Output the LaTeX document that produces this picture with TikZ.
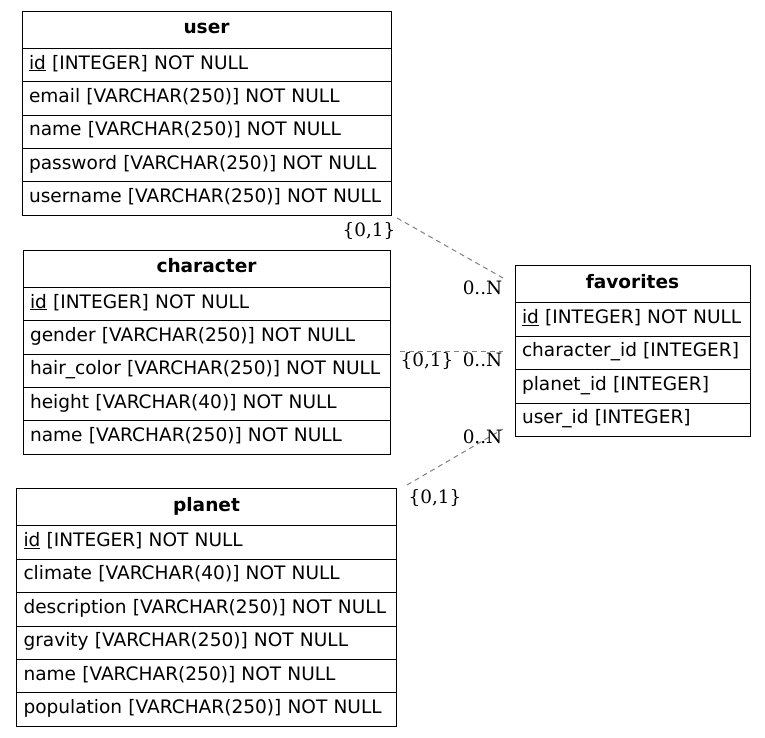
\documentclass[tikz,border=0pt]{standalone}
\usepackage{fontspec}
\setmainfont{DejaVu Sans}
\newfontfamily\lblfont{DejaVu Serif}
\begin{document}
\begin{tikzpicture}[x=1pt,y=-1pt,
  every node/.style={font=\fontsize{18.55}{22}\selectfont},
  tblhead/.style={draw, line width=1pt, outer sep=0pt, anchor=north west, minimum height=37.3pt, inner xsep=7pt, inner ysep=0pt, align=center, text height=13.5pt, text depth=5.5pt, font=\fontsize{18.55}{22}\selectfont\bfseries},
  tblrow/.style={draw, line width=1pt, outer sep=0pt, anchor=north west, minimum height=33.4pt, inner xsep=7pt, inner ysep=0pt, align=left, text height=13.5pt, text depth=5.5pt},
  rel/.style={draw=gray, line width=1pt, dash pattern=on 5pt off 4pt},
  card/.style={anchor=base, inner sep=0pt, font=\fontsize{18.4}{22}\selectfont\lblfont}
]
\useasboundingbox (0,0) rectangle (765,737);

% user
\node[tblhead, text width=355pt] (uH) at (22,11) {user};
\node[tblrow, text width=355pt] (u1) at (uH.south west) {\underline{id} [INTEGER] NOT NULL};
\node[tblrow, text width=355pt] (u2) at (u1.south west) {email [VARCHAR(250)] NOT NULL};
\node[tblrow, text width=355pt] (u3) at (u2.south west) {name [VARCHAR(250)] NOT NULL};
\node[tblrow, text width=355pt] (u4) at (u3.south west) {password [VARCHAR(250)] NOT NULL};
\node[tblrow, text width=355pt] (u5) at (u4.south west) {\mbox{username [VARCHAR(250)] NOT NULL}};

% character
\node[tblhead, text width=353pt] (cH) at (23,250) {character};
\node[tblrow, text width=353pt] (c1) at (cH.south west) {\underline{id} [INTEGER] NOT NULL};
\node[tblrow, text width=353pt] (c2) at (c1.south west) {gender [VARCHAR(250)] NOT NULL};
\node[tblrow, text width=353pt] (c3) at (c2.south west) {\mbox{hair\_color [VARCHAR(250)] NOT NULL}};
\node[tblrow, text width=353pt] (c4) at (c3.south west) {height [VARCHAR(40)] NOT NULL};
\node[tblrow, text width=353pt] (c5) at (c4.south west) {name [VARCHAR(250)] NOT NULL};

% planet
\node[tblhead, text width=366pt] (pH) at (16.5,488.5) {planet};
\node[tblrow, text width=366pt] (p1) at (pH.south west) {\underline{id} [INTEGER] NOT NULL};
\node[tblrow, text width=366pt] (p2) at (p1.south west) {climate [VARCHAR(40)] NOT NULL};
\node[tblrow, text width=366pt] (p3) at (p2.south west) {\mbox{description [VARCHAR(250)] NOT NULL}};
\node[tblrow, text width=366pt] (p4) at (p3.south west) {gravity [VARCHAR(250)] NOT NULL};
\node[tblrow, text width=366pt] (p5) at (p4.south west) {name [VARCHAR(250)] NOT NULL};
\node[tblrow, text width=366pt] (p6) at (p5.south west) {\mbox{population [VARCHAR(250)] NOT NULL}};

% favorites
\node[tblhead, text width=221pt] (fH) at (515,265.5) {favorites};
\node[tblrow, text width=221pt] (f1) at (fH.south west) {\mbox{\underline{id} [INTEGER] NOT NULL}};
\node[tblrow, text width=221pt] (f2) at (f1.south west) {\mbox{character\_id [INTEGER]}};
\node[tblrow, text width=221pt] (f3) at (f2.south west) {planet\_id [INTEGER]};
\node[tblrow, text width=221pt] (f4) at (f3.south west) {user\_id [INTEGER]};

% relations
\coordinate (r1s) at (397,218);
\coordinate (r1e) at (503,278);
\coordinate (r2s) at (400,351);
\coordinate (r2e) at (503,351);
\coordinate (r3s) at (407,485);
\coordinate (r3e) at (503,429);
\draw[rel] (r1s) -- (r1e);
\draw[rel] (r2s) -- (r2e);
\draw[rel] (r3s) -- (r3e);

\node[card] (l1s) at (369,236) {\{0,1\}};
\node[card] (l1e) at (482.5,294) {0..N};
\node[card] (l2s) at (427,366) {\{0,1\}};
\node[card] (l2e) at (482.5,366) {0..N};
\node[card] (l3e) at (482.5,443) {0..N};
\node[card] (l3s) at (435,503) {\{0,1\}};
\end{tikzpicture}
\end{document}
